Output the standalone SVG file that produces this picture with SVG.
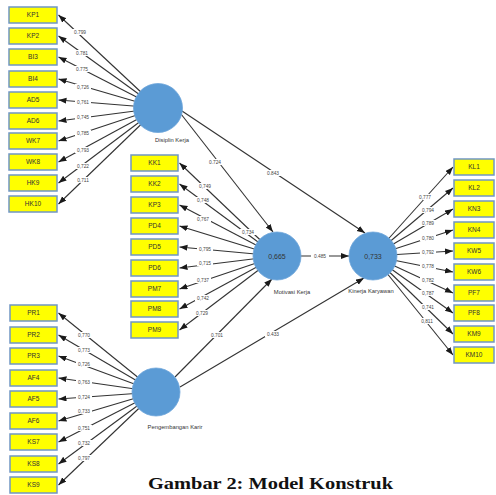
<svg xmlns="http://www.w3.org/2000/svg" width="496" height="495" viewBox="0 0 496 495">
<style>
.ln{stroke:#333;stroke-width:1.1;fill:none;marker-end:url(#ah)}
.box{fill:#ffff00;stroke:#7096c4;stroke-width:1.5}
.bt{font-family:"Liberation Sans",Arial,sans-serif;font-size:6.5px;fill:#333;text-anchor:middle}
.lbg{fill:#fff}
.lt{font-family:"Liberation Sans",Arial,sans-serif;font-size:4.8px;fill:#444;text-anchor:middle}
.lv{fill:#5b9bd5;stroke:#6fa6da;stroke-width:0.8}
.ct{font-family:"Liberation Sans",Arial,sans-serif;font-size:7px;fill:#333;text-anchor:middle}
.cl{font-family:"Liberation Sans",Arial,sans-serif;font-size:5.8px;fill:#333;text-anchor:middle}
.title{font-family:"Liberation Serif","Times New Roman",serif;font-size:17px;font-weight:bold;fill:#111;text-anchor:middle}
</style>
<defs>
<marker id="ah" markerUnits="userSpaceOnUse" markerWidth="9" markerHeight="7" refX="8" refY="3" orient="auto">
<path d="M0,0 L8,3 L0,6 z" fill="#1a1a1a"/>
</marker>
</defs>
<rect width="496" height="495" fill="#fff"/>
<g id="connectors">
<line class="ln" x1="158" y1="108" x2="58.5" y2="15"/>
<line class="ln" x1="158" y1="108" x2="58.5" y2="36"/>
<line class="ln" x1="158" y1="108" x2="58.5" y2="57"/>
<line class="ln" x1="158" y1="108" x2="58.5" y2="79"/>
<line class="ln" x1="158" y1="108" x2="58.5" y2="100"/>
<line class="ln" x1="158" y1="108" x2="58.5" y2="121"/>
<line class="ln" x1="158" y1="108" x2="58.5" y2="141"/>
<line class="ln" x1="158" y1="108" x2="58.5" y2="162"/>
<line class="ln" x1="158" y1="108" x2="58.5" y2="183"/>
<line class="ln" x1="158" y1="108" x2="58.5" y2="204"/>
<line class="ln" x1="277" y1="256" x2="179.5" y2="163"/>
<line class="ln" x1="277" y1="256" x2="179.5" y2="184"/>
<line class="ln" x1="277" y1="256" x2="179.5" y2="205"/>
<line class="ln" x1="277" y1="256" x2="179.5" y2="226"/>
<line class="ln" x1="277" y1="256" x2="179.5" y2="247"/>
<line class="ln" x1="277" y1="256" x2="179.5" y2="268"/>
<line class="ln" x1="277" y1="256" x2="179.5" y2="289"/>
<line class="ln" x1="277" y1="256" x2="179.5" y2="309"/>
<line class="ln" x1="277" y1="256" x2="179.5" y2="330"/>
<line class="ln" x1="373" y1="256" x2="453" y2="167"/>
<line class="ln" x1="373" y1="256" x2="453" y2="188"/>
<line class="ln" x1="373" y1="256" x2="453" y2="209"/>
<line class="ln" x1="373" y1="256" x2="453" y2="230"/>
<line class="ln" x1="373" y1="256" x2="453" y2="251"/>
<line class="ln" x1="373" y1="256" x2="453" y2="272"/>
<line class="ln" x1="373" y1="256" x2="453" y2="293"/>
<line class="ln" x1="373" y1="256" x2="453" y2="313"/>
<line class="ln" x1="373" y1="256" x2="453" y2="334"/>
<line class="ln" x1="373" y1="256" x2="453" y2="355"/>
<line class="ln" x1="156" y1="392" x2="58.5" y2="313"/>
<line class="ln" x1="156" y1="392" x2="58.5" y2="335"/>
<line class="ln" x1="156" y1="392" x2="58.5" y2="356"/>
<line class="ln" x1="156" y1="392" x2="58.5" y2="378"/>
<line class="ln" x1="156" y1="392" x2="58.5" y2="399"/>
<line class="ln" x1="156" y1="392" x2="58.5" y2="421"/>
<line class="ln" x1="156" y1="392" x2="58.5" y2="442"/>
<line class="ln" x1="156" y1="392" x2="58.5" y2="464"/>
<line class="ln" x1="156" y1="392" x2="58.5" y2="485"/>
<line class="ln" x1="182" y1="111" x2="365" y2="233"/>
<line class="ln" x1="181" y1="114" x2="273" y2="232"/>
<line class="ln" x1="301" y1="256" x2="349" y2="256"/>
<line class="ln" x1="175" y1="377" x2="272" y2="279"/>
<line class="ln" x1="180" y1="387" x2="364" y2="278"/>
<g id="loadings">
<rect class="lbg" x="72" y="29" width="16" height="6"/><text class="lt" x="80" y="33.7">0.799</text>
<rect class="lbg" x="74" y="50" width="16" height="6"/><text class="lt" x="82" y="54.7">0.781</text>
<rect class="lbg" x="74" y="66" width="16" height="6"/><text class="lt" x="82" y="70.7">0.775</text>
<rect class="lbg" x="75" y="84" width="16" height="6"/><text class="lt" x="83" y="88.7">0,726</text>
<rect class="lbg" x="75" y="99" width="16" height="6"/><text class="lt" x="83" y="103.7">0,761</text>
<rect class="lbg" x="75" y="114" width="16" height="6"/><text class="lt" x="83" y="118.7">0,745</text>
<rect class="lbg" x="75" y="130" width="16" height="6"/><text class="lt" x="83" y="134.7">0,785</text>
<rect class="lbg" x="75" y="147" width="16" height="6"/><text class="lt" x="83" y="151.7">0,793</text>
<rect class="lbg" x="75" y="163" width="16" height="6"/><text class="lt" x="83" y="167.7">0,722</text>
<rect class="lbg" x="75" y="177" width="16" height="6"/><text class="lt" x="83" y="181.7">0,711</text>
<rect class="lbg" x="197" y="183" width="16" height="6"/><text class="lt" x="205" y="187.7">0,749</text>
<rect class="lbg" x="195" y="197" width="16" height="6"/><text class="lt" x="203" y="201.7">0,748</text>
<rect class="lbg" x="195" y="216" width="16" height="6"/><text class="lt" x="203" y="220.7">0,767</text>
<rect class="lbg" x="240" y="229" width="16" height="6"/><text class="lt" x="248" y="233.7">0,734</text>
<rect class="lbg" x="197" y="246" width="16" height="6"/><text class="lt" x="205" y="250.7">0,795</text>
<rect class="lbg" x="197" y="260" width="16" height="6"/><text class="lt" x="205" y="264.7">0,715</text>
<rect class="lbg" x="195" y="277" width="16" height="6"/><text class="lt" x="203" y="281.7">0,737</text>
<rect class="lbg" x="195" y="295" width="16" height="6"/><text class="lt" x="203" y="299.7">0,742</text>
<rect class="lbg" x="194" y="310" width="16" height="6"/><text class="lt" x="202" y="314.7">0,729</text>
<rect class="lbg" x="417" y="194" width="16" height="6"/><text class="lt" x="425" y="198.7">0,777</text>
<rect class="lbg" x="420" y="207" width="16" height="6"/><text class="lt" x="428" y="211.7">0,794</text>
<rect class="lbg" x="420" y="220" width="16" height="6"/><text class="lt" x="428" y="224.7">0,789</text>
<rect class="lbg" x="420" y="235" width="16" height="6"/><text class="lt" x="428" y="239.7">0,780</text>
<rect class="lbg" x="420" y="249" width="16" height="6"/><text class="lt" x="428" y="253.7">0,792</text>
<rect class="lbg" x="420" y="263" width="16" height="6"/><text class="lt" x="428" y="267.7">0,778</text>
<rect class="lbg" x="420" y="277" width="16" height="6"/><text class="lt" x="428" y="281.7">0,782</text>
<rect class="lbg" x="420" y="290" width="16" height="6"/><text class="lt" x="428" y="294.7">0,787</text>
<rect class="lbg" x="420" y="304" width="16" height="6"/><text class="lt" x="428" y="308.7">0,741</text>
<rect class="lbg" x="419" y="318" width="16" height="6"/><text class="lt" x="427" y="322.7">0,811</text>
<rect class="lbg" x="76" y="332" width="16" height="6"/><text class="lt" x="84" y="336.7">0,770</text>
<rect class="lbg" x="76" y="347" width="16" height="6"/><text class="lt" x="84" y="351.7">0,773</text>
<rect class="lbg" x="76" y="361" width="16" height="6"/><text class="lt" x="84" y="365.7">0,726</text>
<rect class="lbg" x="76" y="379" width="16" height="6"/><text class="lt" x="84" y="383.7">0,763</text>
<rect class="lbg" x="76" y="394" width="16" height="6"/><text class="lt" x="84" y="398.7">0,724</text>
<rect class="lbg" x="76" y="408" width="16" height="6"/><text class="lt" x="84" y="412.7">0,733</text>
<rect class="lbg" x="76" y="425" width="16" height="6"/><text class="lt" x="84" y="429.7">0,751</text>
<rect class="lbg" x="76" y="440" width="16" height="6"/><text class="lt" x="84" y="444.7">0,732</text>
<rect class="lbg" x="76" y="455" width="16" height="6"/><text class="lt" x="84" y="459.7">0,797</text>
<rect class="lbg" x="207" y="159" width="16" height="6"/><text class="lt" x="215" y="163.7">0.724</text>
<rect class="lbg" x="265" y="170" width="16" height="6"/><text class="lt" x="273" y="174.7">0.843</text>
<rect class="lbg" x="311" y="252" width="18" height="8"/><text class="lt" x="320" y="257.7">0.485</text>
<rect class="lbg" x="209" y="332" width="16" height="6"/><text class="lt" x="217" y="336.7">0.701</text>
<rect class="lbg" x="265" y="331" width="16" height="6"/><text class="lt" x="273" y="335.7">0.433</text>
</g>
</g>
<g id="disiplin-kerja"><circle class="lv" cx="158" cy="108" r="24.5"/><text class="cl" x="172" y="142">Disiplin Kerja</text></g>
<g id="motivasi-kerja"><circle class="lv" cx="277" cy="256" r="24"/><text class="ct" x="277" y="258.5">0,665</text><text class="cl" x="292" y="294">Motivasi Kerja</text></g>
<g id="kinerja-karyawan"><circle class="lv" cx="373" cy="256" r="24"/><text class="ct" x="373" y="258.5">0,733</text><text class="cl" x="371" y="293">Kinerja Karyawan</text></g>
<g id="pengembangan-karir"><circle class="lv" cx="156" cy="392" r="24"/><text class="cl" x="175" y="429">Pengembangan Karir</text></g>
<g id="KP1"><rect class="box" x="9" y="7" width="48" height="16"/><text class="bt" x="33" y="17.3">KP1</text></g>
<g id="KP2"><rect class="box" x="9" y="28" width="48" height="16"/><text class="bt" x="33" y="38.3">KP2</text></g>
<g id="BI3"><rect class="box" x="9" y="49" width="48" height="16"/><text class="bt" x="33" y="59.3">BI3</text></g>
<g id="BI4"><rect class="box" x="9" y="71" width="48" height="16"/><text class="bt" x="33" y="81.3">BI4</text></g>
<g id="AD5"><rect class="box" x="9" y="92" width="48" height="16"/><text class="bt" x="33" y="102.3">AD5</text></g>
<g id="AD6"><rect class="box" x="9" y="113" width="48" height="16"/><text class="bt" x="33" y="123.3">AD6</text></g>
<g id="WK7"><rect class="box" x="9" y="133" width="48" height="16"/><text class="bt" x="33" y="143.3">WK7</text></g>
<g id="WK8"><rect class="box" x="9" y="154" width="48" height="16"/><text class="bt" x="33" y="164.3">WK8</text></g>
<g id="HK9"><rect class="box" x="9" y="175" width="48" height="16"/><text class="bt" x="33" y="185.3">HK9</text></g>
<g id="HK10"><rect class="box" x="9" y="196" width="48" height="16"/><text class="bt" x="33" y="206.3">HK10</text></g>
<g id="KK1"><rect class="box" x="131" y="155" width="47" height="16"/><text class="bt" x="154.5" y="165.3">KK1</text></g>
<g id="KK2"><rect class="box" x="131" y="176" width="47" height="16"/><text class="bt" x="154.5" y="186.3">KK2</text></g>
<g id="KP3"><rect class="box" x="131" y="197" width="47" height="16"/><text class="bt" x="154.5" y="207.3">KP3</text></g>
<g id="PD4"><rect class="box" x="131" y="218" width="47" height="16"/><text class="bt" x="154.5" y="228.3">PD4</text></g>
<g id="PD5"><rect class="box" x="131" y="239" width="47" height="16"/><text class="bt" x="154.5" y="249.3">PD5</text></g>
<g id="PD6"><rect class="box" x="131" y="260" width="47" height="16"/><text class="bt" x="154.5" y="270.3">PD6</text></g>
<g id="PM7"><rect class="box" x="131" y="281" width="47" height="16"/><text class="bt" x="154.5" y="291.3">PM7</text></g>
<g id="PM8"><rect class="box" x="131" y="301" width="47" height="16"/><text class="bt" x="154.5" y="311.3">PM8</text></g>
<g id="PM9"><rect class="box" x="131" y="322" width="47" height="16"/><text class="bt" x="154.5" y="332.3">PM9</text></g>
<g id="KL1"><rect class="box" x="454" y="159" width="40" height="16"/><text class="bt" x="474" y="169.3">KL1</text></g>
<g id="KL2"><rect class="box" x="454" y="180" width="40" height="16"/><text class="bt" x="474" y="190.3">KL2</text></g>
<g id="KN3"><rect class="box" x="454" y="201" width="40" height="16"/><text class="bt" x="474" y="211.3">KN3</text></g>
<g id="KN4"><rect class="box" x="454" y="222" width="40" height="16"/><text class="bt" x="474" y="232.3">KN4</text></g>
<g id="KW5"><rect class="box" x="454" y="243" width="40" height="16"/><text class="bt" x="474" y="253.3">KW5</text></g>
<g id="KW6"><rect class="box" x="454" y="264" width="40" height="16"/><text class="bt" x="474" y="274.3">KW6</text></g>
<g id="PF7"><rect class="box" x="454" y="285" width="40" height="16"/><text class="bt" x="474" y="295.3">PF7</text></g>
<g id="PF8"><rect class="box" x="454" y="305" width="40" height="16"/><text class="bt" x="474" y="315.3">PF8</text></g>
<g id="KM9"><rect class="box" x="454" y="326" width="40" height="16"/><text class="bt" x="474" y="336.3">KM9</text></g>
<g id="KM10"><rect class="box" x="454" y="347" width="40" height="16"/><text class="bt" x="474" y="357.3">KM10</text></g>
<g id="PR1"><rect class="box" x="10" y="305" width="47" height="16"/><text class="bt" x="33.5" y="315.3">PR1</text></g>
<g id="PR2"><rect class="box" x="10" y="327" width="47" height="16"/><text class="bt" x="33.5" y="337.3">PR2</text></g>
<g id="PR3"><rect class="box" x="10" y="348" width="47" height="16"/><text class="bt" x="33.5" y="358.3">PR3</text></g>
<g id="AF4"><rect class="box" x="10" y="370" width="47" height="16"/><text class="bt" x="33.5" y="380.3">AF4</text></g>
<g id="AF5"><rect class="box" x="10" y="391" width="47" height="16"/><text class="bt" x="33.5" y="401.3">AF5</text></g>
<g id="AF6"><rect class="box" x="10" y="413" width="47" height="16"/><text class="bt" x="33.5" y="423.3">AF6</text></g>
<g id="KS7"><rect class="box" x="10" y="434" width="47" height="16"/><text class="bt" x="33.5" y="444.3">KS7</text></g>
<g id="KS8"><rect class="box" x="10" y="456" width="47" height="16"/><text class="bt" x="33.5" y="466.3">KS8</text></g>
<g id="KS9"><rect class="box" x="10" y="477" width="47" height="16"/><text class="bt" x="33.5" y="487.3">KS9</text></g>
<text class="title" x="270.5" y="489" textLength="245" lengthAdjust="spacingAndGlyphs">Gambar 2: Model Konstruk</text>
</svg>
